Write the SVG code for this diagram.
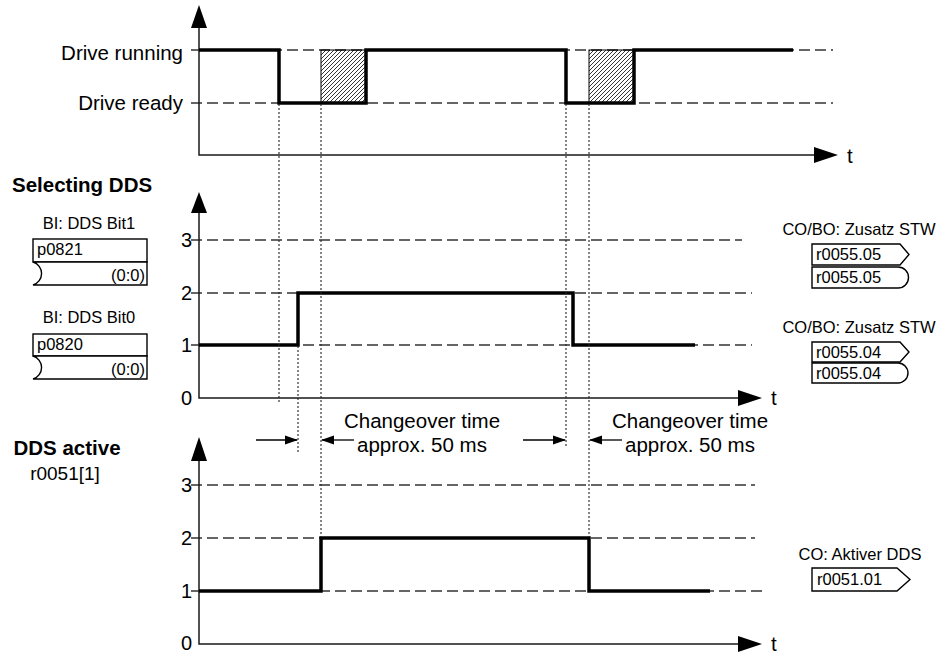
<svg xmlns="http://www.w3.org/2000/svg" width="943" height="654" viewBox="0 0 943 654">
<style>
text{font-family:"Liberation Sans",Arial,sans-serif;fill:#000}
.lbl{font-size:20.5px}
.num{font-size:20px;text-anchor:end}
.sm{font-size:16.5px}
.hd{font-size:20.5px;font-weight:bold}
.axis{stroke:#1a1a1a;stroke-width:1.5;fill:none}
.head{fill:#000;stroke:none}
.dash{stroke:#333;stroke-width:1.3;stroke-dasharray:11 5;fill:none}
.sig{stroke:#000;stroke-width:3.5;fill:none;stroke-linejoin:miter}
.dot{stroke:#222;stroke-width:1.1;stroke-dasharray:2 2;fill:none}
.box{stroke:#000;stroke-width:1.4;fill:#fff}
.arr{stroke:#000;stroke-width:1.3;fill:none}
</style>
<defs>
<pattern id="hatch" patternUnits="userSpaceOnUse" width="4" height="4">
<path d="M-1,1 L1,-1 M0,4 L4,0 M3,5 L5,3" stroke="#000" stroke-width="0.8"/>
</pattern>
<marker id="ah" markerUnits="userSpaceOnUse" markerWidth="13" markerHeight="10" refX="12" refY="5" orient="auto">
<path d="M0,0.5 L13,5 L0,9.5 z" fill="#000"/>
</marker>
</defs>

<g id="chart-drive">
<line class="dash" x1="191" y1="50" x2="833" y2="50"/>
<line class="dash" x1="191" y1="103" x2="833" y2="103"/>
<rect x="321" y="50" width="45" height="53" fill="url(#hatch)" stroke="#000" stroke-width="1"/>
<rect x="589" y="50" width="45" height="53" fill="url(#hatch)" stroke="#000" stroke-width="1"/>
<path class="axis" d="M199,28 V155 H815"/>
<polygon class="head" points="199,5 191,28 207,28"/>
<polygon class="head" points="838,155 814,147 814,163"/>
<path class="sig" d="M199,50 H279 V103 H366 V50 H566 V103 H634 V50 H793"/>
<text class="lbl" x="183" y="60" text-anchor="end">Drive running</text>
<text class="lbl" x="183" y="110" text-anchor="end">Drive ready</text>
<text class="lbl" x="847" y="163">t</text>
</g>

<g id="chart-select">
<line class="dash" x1="191" y1="240" x2="742" y2="240"/>
<line class="dash" x1="191" y1="293" x2="752" y2="293"/>
<line class="dash" x1="191" y1="345" x2="752" y2="345"/>
<path class="axis" d="M199,212 V398 H740"/>
<polygon class="head" points="199,192 191,213 207,213"/>
<polygon class="head" points="762,398 738,390 738,406"/>
<path class="sig" d="M199,345 H298 V293 H573 V345 H695"/>
<text class="num" x="192" y="247">3</text>
<text class="num" x="192" y="300">2</text>
<text class="num" x="192" y="352">1</text>
<text class="num" x="192" y="405">0</text>
<text class="lbl" x="771" y="405">t</text>
<text class="hd" x="12" y="192">Selecting DDS</text>
</g>

<g id="chart-active">
<line class="dash" x1="191" y1="485" x2="755" y2="485"/>
<line class="dash" x1="191" y1="538" x2="755" y2="538"/>
<line class="dash" x1="191" y1="591" x2="762" y2="591"/>
<path class="axis" d="M199,460 V644 H740"/>
<polygon class="head" points="199,437 191,461 207,461"/>
<polygon class="head" points="762,644 738,636 738,652"/>
<path class="sig" d="M199,591 H321 V538 H589 V591 H710"/>
<text class="num" x="192" y="492">3</text>
<text class="num" x="192" y="545">2</text>
<text class="num" x="192" y="598">1</text>
<text class="num" x="192" y="650">0</text>
<text class="lbl" x="771" y="651">t</text>
<text class="hd" x="67" y="455" text-anchor="middle">DDS active</text>
<text class="lbl" x="65" y="480" text-anchor="middle" style="font-size:19px">r0051[1]</text>
</g>

<g id="bi-bit1">
<text class="sm" x="89" y="229" text-anchor="middle">BI: DDS Bit1</text>
<rect class="box" x="33" y="239" width="114" height="23"/>
<path class="box" d="M33,262 H147 V285 H33 A12,12 0 0 0 33,262 z"/>
<text class="sm" x="37" y="255">p0821</text>
<text class="sm" x="145" y="281" text-anchor="end">(0:0)</text>
</g>

<g id="bi-bit0">
<text class="sm" x="89" y="323" text-anchor="middle">BI: DDS Bit0</text>
<rect class="box" x="33" y="334" width="114" height="22"/>
<path class="box" d="M33,356 H147 V379 H33 A12,12 0 0 0 33,356 z"/>
<text class="sm" x="37" y="350">p0820</text>
<text class="sm" x="145" y="375" text-anchor="end">(0:0)</text>
</g>

<g id="co-bo-05">
<text class="sm" x="859" y="235" text-anchor="middle">CO/BO: Zusatz STW</text>
<path class="box" d="M812,244 H900 L909,254.5 L900,265 H812 z"/>
<path class="box" d="M812,267 H898 A10.5,10.5 0 0 1 898,288 H812 z"/>
<text class="sm" x="816" y="260">r0055.05</text>
<text class="sm" x="816" y="283">r0055.05</text>
</g>

<g id="co-bo-04">
<text class="sm" x="859" y="333" text-anchor="middle">CO/BO: Zusatz STW</text>
<path class="box" d="M812,342 H900 L909,352 L900,362 H812 z"/>
<path class="box" d="M812,363 H898 A10,10 0 0 1 898,383 H812 z"/>
<text class="sm" x="816" y="358">r0055.04</text>
<text class="sm" x="816" y="379">r0055.04</text>
</g>

<g id="co-active">
<text class="sm" x="860" y="560" text-anchor="middle">CO: Aktiver DDS</text>
<path class="box" d="M812,568 H897 L910,579.5 L897,591 H812 z"/>
<text class="sm" x="817" y="585">r0051.01</text>
</g>

<g id="connectors">
<line class="dot" x1="279" y1="104" x2="279" y2="402"/>
<line class="dot" x1="321" y1="104" x2="321" y2="537"/>
<line class="dot" x1="298" y1="346" x2="298" y2="452"/>
<line class="dot" x1="566" y1="104" x2="566" y2="447"/>
<line class="dot" x1="589" y1="104" x2="589" y2="537"/>
<line class="arr" x1="256" y1="440" x2="297" y2="440" marker-end="url(#ah)"/>
<line class="arr" x1="354" y1="440" x2="322" y2="440" marker-end="url(#ah)"/>
<line class="arr" x1="523" y1="440" x2="565" y2="440" marker-end="url(#ah)"/>
<line class="arr" x1="622" y1="440" x2="590" y2="440" marker-end="url(#ah)"/>
<text class="lbl" x="422" y="428" text-anchor="middle">Changeover time</text>
<text class="lbl" x="422" y="452" text-anchor="middle">approx. 50 ms</text>
<text class="lbl" x="690" y="428" text-anchor="middle">Changeover time</text>
<text class="lbl" x="690" y="452" text-anchor="middle">approx. 50 ms</text>
</g>
</svg>
